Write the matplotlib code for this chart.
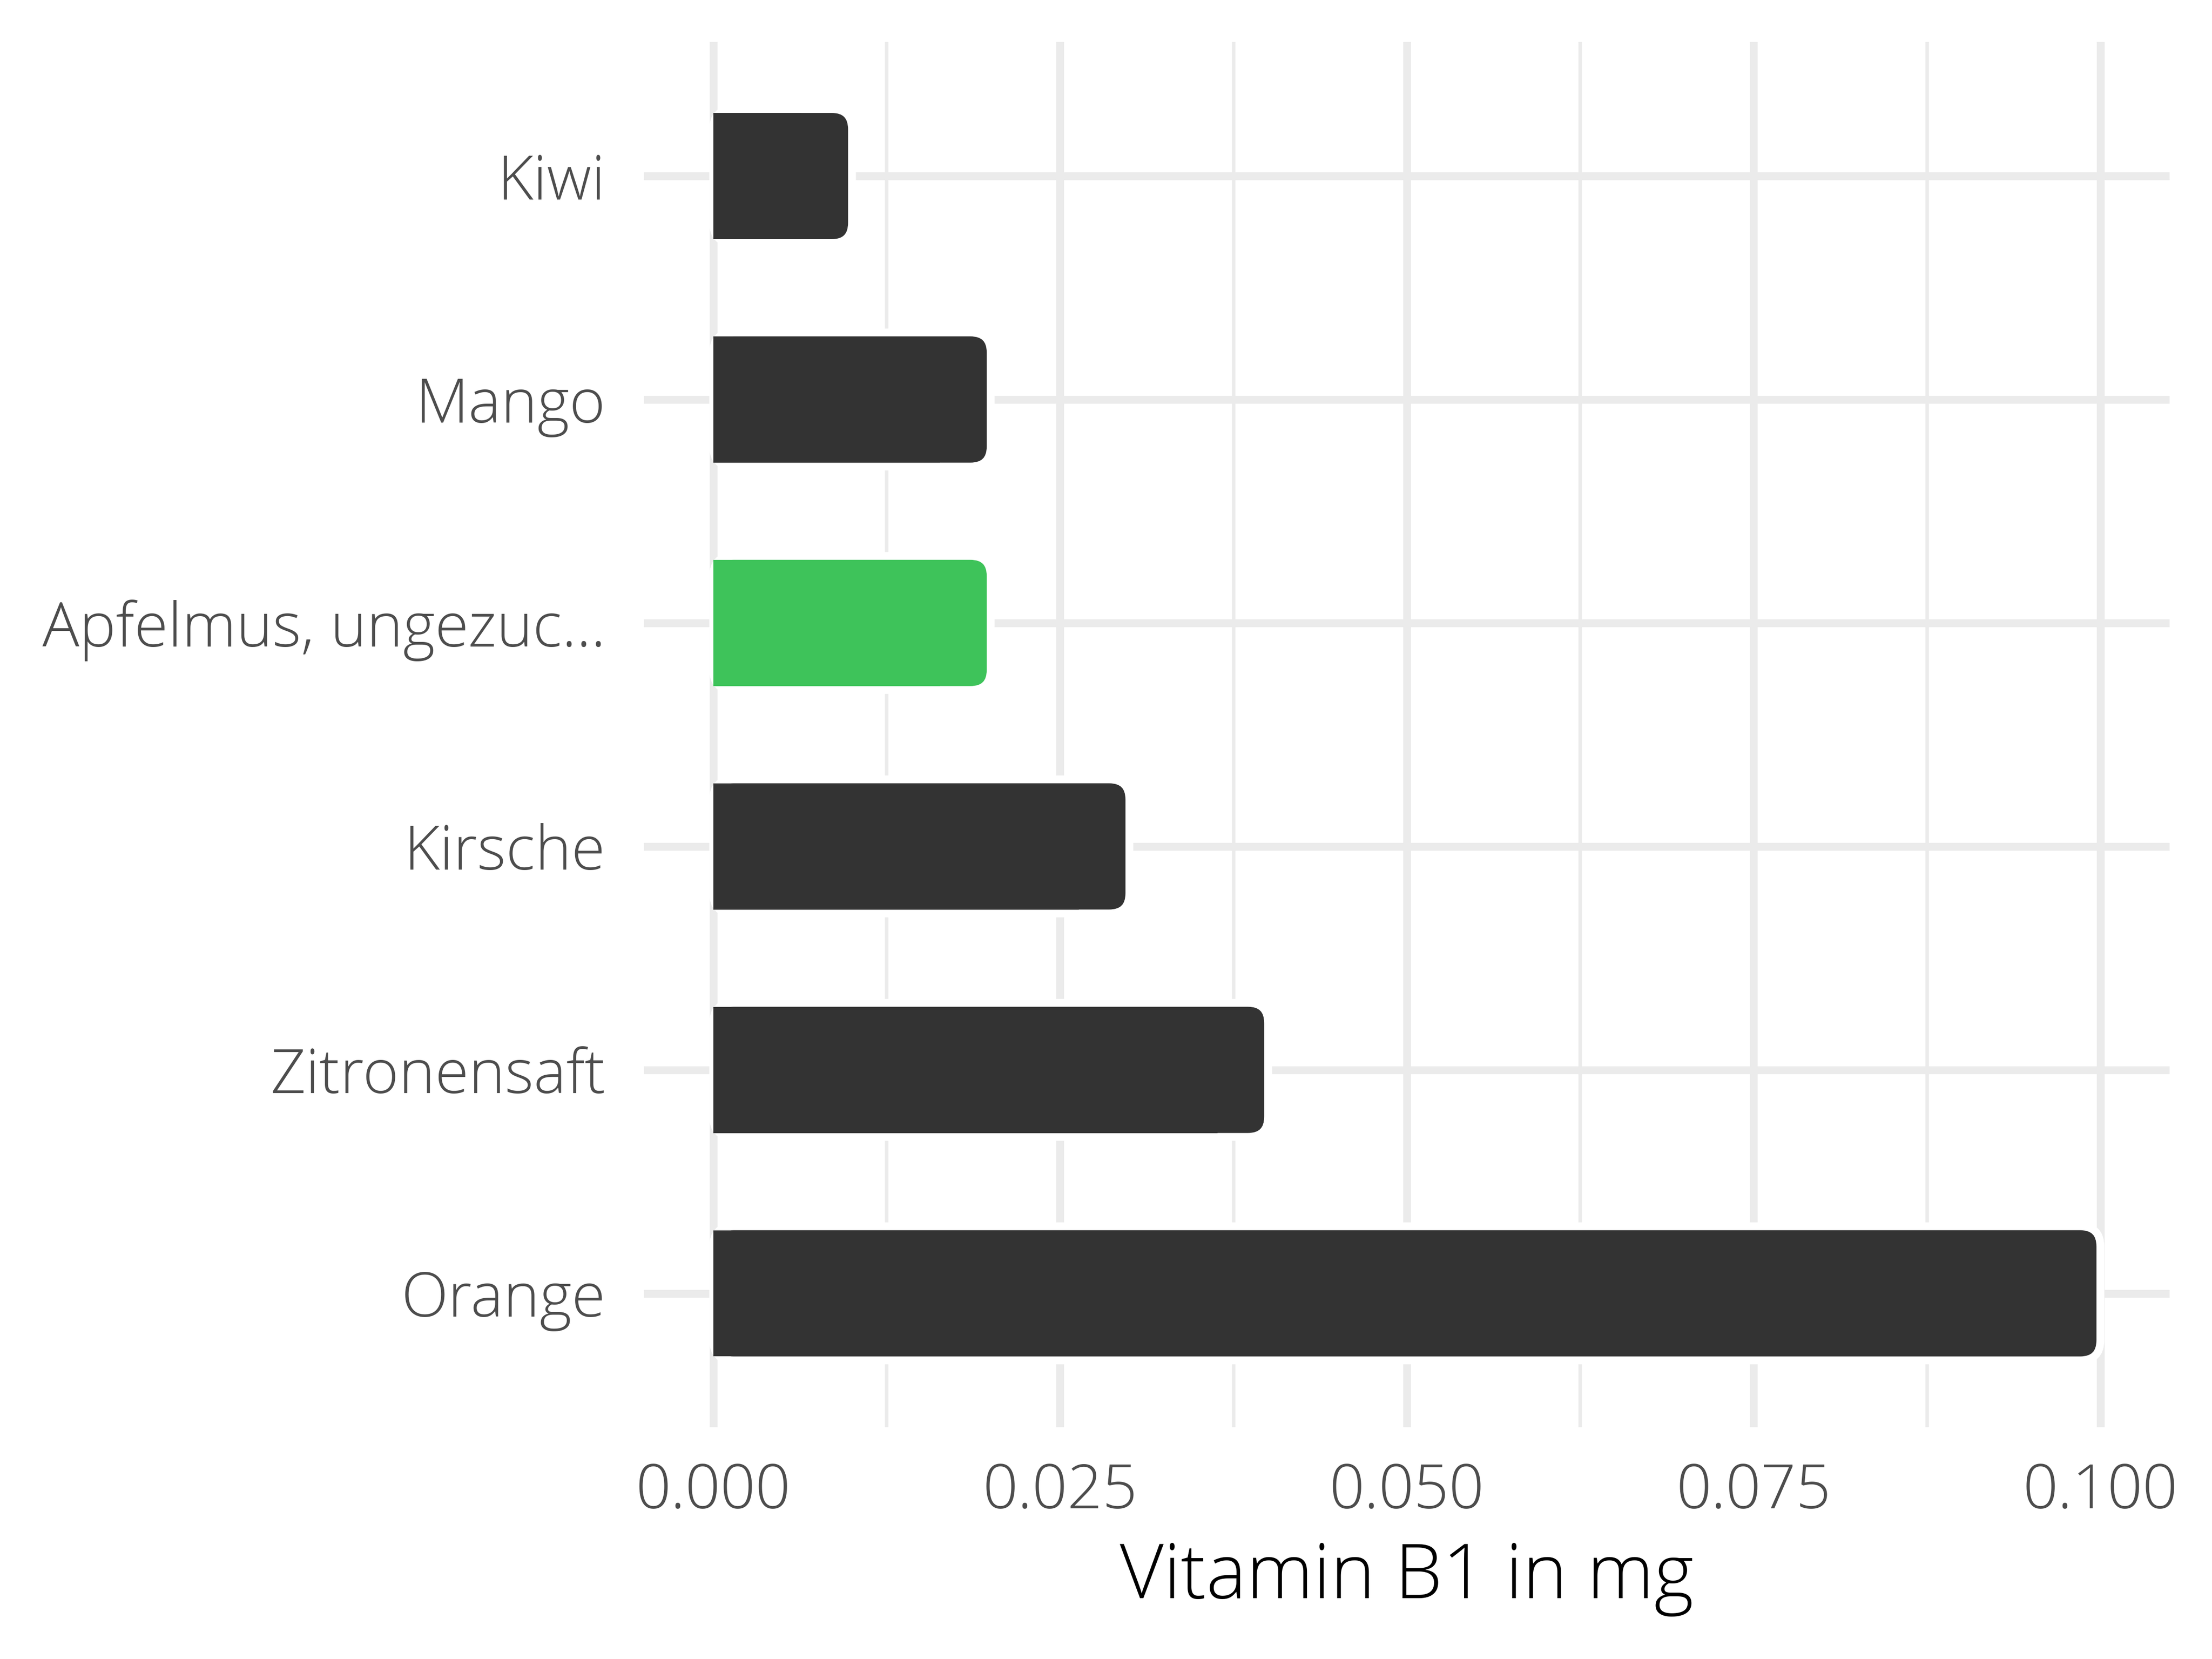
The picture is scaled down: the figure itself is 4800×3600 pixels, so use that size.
import numpy as np
import matplotlib
matplotlib.use("Agg")
import matplotlib.pyplot as plt
from matplotlib.patches import FancyBboxPatch, Rectangle

# data (top to bottom)
foods = ["Kiwi", "Mango", "Apfelmus, ungezuc...", "Kirsche", "Zitronensaft", "Orange"]
vitamin_b1 = [0.01, 0.02, 0.02, 0.03, 0.04, 0.1]
bar_colors = ["#333333", "#333333", "#3EC35A", "#333333", "#333333", "#333333"]
xticks = [0.0, 0.025, 0.05, 0.075, 0.1]
xtick_labels = ["0.000", "0.025", "0.050", "0.075", "0.100"]

plt.rcParams['font.family'] = ['Open Sans', 'DejaVu Sans']

fig = plt.figure(figsize=(16, 12), dpi=300)
ax = fig.add_axes([0.2911, 0.1396, 0.9809 - 0.2911, 0.9747 - 0.1396])

ax.set_xlim(-0.005, 0.105)
ax.set_ylim(len(foods) - 0.4, -0.6)

grid_col = "#EBEBEB"
for xv in xticks:
    ax.axvline(xv, color=grid_col, lw=4.1, zorder=1)
for xv in np.array(xticks[:-1]) + 0.0125:
    ax.axvline(xv, color=grid_col, lw=1.8, zorder=1)
for i in range(len(foods)):
    ax.axhline(i, color=grid_col, lw=4.1, zorder=1)

# geometry for rounded corners (px per data unit)
px_x = 30100.0
px_y = 485.0
r_px = 44.0
rx = r_px / px_x
aspect = (r_px / px_y) / rx
bar_h = 0.6
stroke_px = 17.0
stroke_pt = stroke_px / 300 * 72
fill_h = bar_h - stroke_px / px_y

for i, (v, c) in enumerate(zip(vitamin_b1, bar_colors)):
    box = FancyBboxPatch((0, i - bar_h / 2), v, bar_h,
                         boxstyle="round,pad=0,rounding_size=%f" % rx,
                         mutation_aspect=aspect,
                         facecolor=c, edgecolor="white", lw=stroke_pt, zorder=2)
    ax.add_patch(box)
    ax.add_patch(Rectangle((0, i - fill_h / 2), v - 2.5 * rx, fill_h,
                           facecolor=c, edgecolor="none", zorder=3))

ax.set_yticks(range(len(foods)))
ax.set_yticklabels(foods)
ax.set_xticks(xticks)
ax.set_xticklabels(xtick_labels)
ax.tick_params(axis="both", length=0, labelsize=32, labelcolor="#4D4D4D")
ax.tick_params(axis="y", pad=20)
ax.tick_params(axis="x", pad=18)
for lab in ax.get_xticklabels() + ax.get_yticklabels():
    lab.set_fontweight("light")

ax.set_xlabel("Vitamin B1 in mg", fontsize=39.5, color="black", fontweight="light", labelpad=9)

for s in ax.spines.values():
    s.set_visible(False)
ax.set_facecolor("white")

fig.savefig("out.png", dpi=300, facecolor="white")
